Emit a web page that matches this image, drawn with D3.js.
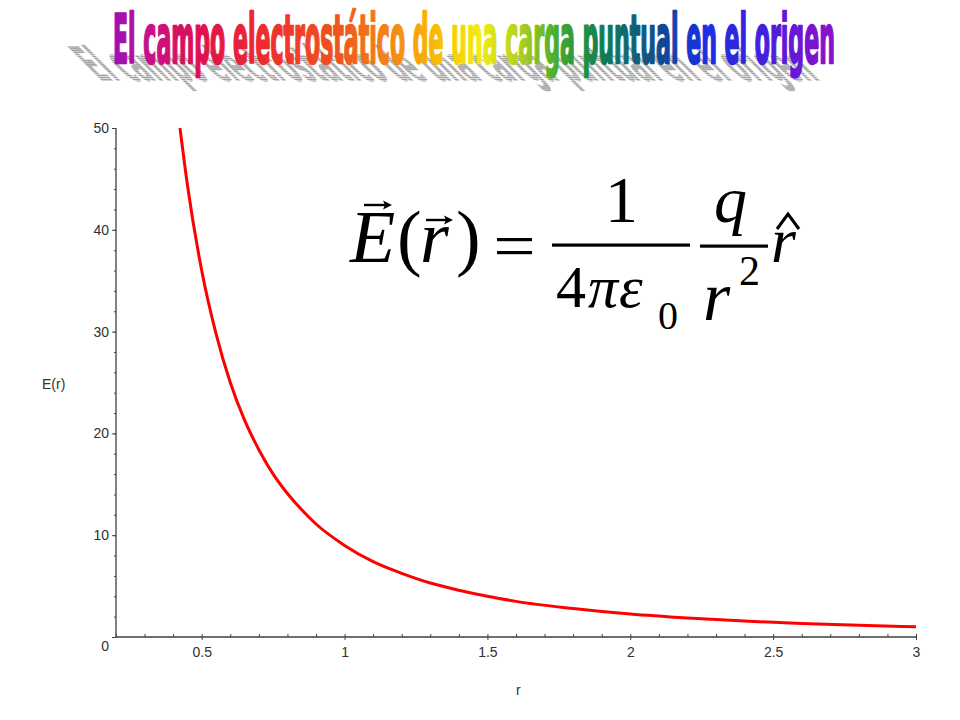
<!DOCTYPE html>
<html>
<head>
<meta charset="utf-8">
<script src="https://cdn.jsdelivr.net/npm/d3@7"></script>
<style>
  html, body { margin: 0; padding: 0; background: #fff; }
  svg { display: block; }
</style>
</head>
<body>
<script>
// ---- Data ----
const rValues = [0.424, 0.45, 0.5, 0.55, 0.6, 0.65, 0.7, 0.75, 0.8, 0.85, 0.9, 1.0, 1.1, 1.2, 1.3, 1.4, 1.5, 1.6, 1.8, 2.0, 2.2, 2.4, 2.6, 2.8, 3.0];
const eValues = [50, 44.4, 36, 29.8, 25, 21.3, 18.4, 16, 14.1, 12.5, 11.1, 9, 7.4, 6.25, 5.3, 4.6, 4, 3.5, 2.8, 2.25, 1.86, 1.56, 1.33, 1.15, 1.0];
const xTickValues = [0.5, 1, 1.5, 2, 2.5, 3];
const yTickValues = [0, 10, 20, 30, 40, 50];
const titleText = "El campo electrostático de una carga puntual en el origen";
const xLabel = "r";
const yLabel = "E(r)";

const W = 960, H = 720;
const svg = d3.select("body").append("svg").attr("width", W).attr("height", H);
const defs = svg.append("defs");

// ---- Title (WordArt style) ----
const TITLE_X = 113, TITLE_W = 722;
const grad = defs.append("linearGradient").attr("id", "rainbow")
  .attr("gradientUnits", "objectBoundingBox").attr("x1", 0).attr("x2", 1).attr("y1", 0).attr("y2", 0);
[[113,"#9a10b8"],[150,"#c8108a"],[200,"#e0104e"],[260,"#ee2a30"],[340,"#f0561e"],[400,"#f59018"],
 [440,"#f8c000"],[480,"#f4ec10"],[520,"#b0d020"],[560,"#40a830"],[600,"#108050"],[660,"#104a90"],
 [700,"#1830e0"],[760,"#4020e0"],[835,"#9010c8"]].forEach(([px,c]) => {
  grad.append("stop").attr("offset", ((px - TITLE_X) / TITLE_W)).attr("stop-color", c);
});
const pat = defs.append("pattern").attr("id", "stripes").attr("patternUnits", "userSpaceOnUse")
  .attr("width", 4).attr("height", 3);
pat.append("rect").attr("width", 4).attr("height", 3).attr("fill", "#dcdcdc");
pat.append("rect").attr("width", 4).attr("height", 2).attr("fill", "#a4a4a4");

const titleFont = "'Liberation Sans Narrow', 'DejaVu Sans Condensed', 'Liberation Sans', Arial, sans-serif";
function titleEl(fill) {
  return svg.append("text").attr("x", 0).attr("y", 0)
    .attr("font-family", titleFont).attr("font-weight", "bold").attr("font-size", 68)
    .attr("fill", fill).text(titleText);
}
const shadow = titleEl("url(#stripes)");
const main = titleEl("url(#rainbow)").attr("stroke", "url(#rainbow)").attr("stroke-width", 2.4)
  .attr("stroke-linejoin", "round");
const natural = main.node().getComputedTextLength();
const sx = TITLE_W / natural;
main.attr("transform", `translate(${TITLE_X},63) scale(${sx},1)`);
shadow.attr("transform", `translate(100,81) skewX(45) scale(${sx},0.7)`);

// ---- Scales ----
const x = d3.scaleLinear().domain([0.2, 3]).range([116, 916]);
const y = d3.scaleLinear().domain([0, 50]).range([637, 128]);

const axisColor = "#404040";
const labelFont = "'Liberation Sans', Arial, sans-serif";

// minor ticks
const gxMinor = svg.append("g").attr("transform", `translate(0,${y(0)})`)
  .call(d3.axisTop(x).tickValues(d3.range(2, 31).map(d => d / 10)).tickSize(3).tickFormat(""));
const gyMinor = svg.append("g").attr("transform", `translate(${x(0.2)},0)`)
  .call(d3.axisLeft(y).tickValues(d3.range(0, 51, 2)).tickSize(2).tickFormat(""));
[gxMinor, gyMinor].forEach(g => {
  g.select(".domain").remove();
  g.selectAll("line").attr("stroke", axisColor);
});

// major axes
const gx = svg.append("g").attr("transform", `translate(0,${y(0)})`)
  .call(d3.axisBottom(x).tickValues(xTickValues).tickSize(3).tickPadding(7).tickFormat(d3.format("~g")));
const gy = svg.append("g").attr("transform", `translate(${x(0.2)},0)`)
  .call(d3.axisLeft(y).tickValues(yTickValues).tickSize(4).tickPadding(3).tickFormat(d3.format("~g")));
[gx, gy].forEach(g => {
  g.select(".domain").attr("stroke", axisColor).attr("stroke-width", 1.3);
  g.selectAll("line").attr("stroke", axisColor);
  g.selectAll("text").attr("fill", "#303030").attr("font-family", labelFont).attr("font-size", 14);
});
gy.select(".domain").attr("d", `M0,${y(50)}V${y(0)}`);
gx.select(".domain").attr("d", `M${x(0.2)},0H${x(3)}`);
// y label "0" sits at lower-left of origin
gy.selectAll(".tick").filter(d => d === 0).select("text").attr("dy", "0.95em");

// axis titles
svg.append("text").attr("x", 42).attr("y", 389).attr("font-family", labelFont).attr("font-size", 14)
  .attr("fill", "#303030").text(yLabel);
svg.append("text").attr("x", 516).attr("y", 695).attr("font-family", labelFont).attr("font-size", 14)
  .attr("fill", "#303030").text(xLabel);

// ---- Curve ----
const pts = rValues.map((r, i) => [r, eValues[i]]);
svg.append("path").datum(pts)
  .attr("d", d3.line().x(d => x(d[0])).y(d => y(d[1])).curve(d3.curveMonotoneX))
  .attr("fill", "none").attr("stroke", "#ff0000").attr("stroke-width", 3);

// ---- Formula ----
const serif = "'Liberation Serif', 'Times New Roman', serif";
const f = svg.append("g").attr("fill", "#000");
function t(str, px, py, size, italic) {
  f.append("text").attr("x", px).attr("y", py).attr("font-family", serif)
    .attr("font-size", size).attr("font-style", italic ? "italic" : "normal").text(str);
}
function arrow(x1, x2, yy) {
  f.append("line").attr("x1", x1).attr("x2", x2 - 6).attr("y1", yy).attr("y2", yy)
    .attr("stroke", "#000").attr("stroke-width", 2.4);
  f.append("path").attr("d", `M${x2},${yy}L${x2 - 9},${yy - 4.5}L${x2 - 7},${yy}L${x2 - 9},${yy + 4.5}Z`);
}
t("E", 350, 262, 74, true);
arrow(364, 392, 205);
t("(", 397, 262, 74, false);
t("r", 420, 262, 74, true);
arrow(426, 453, 220);
t(")", 456, 262, 74, false);
f.append("rect").attr("x", 497).attr("y", 238).attr("width", 35).attr("height", 3.2);
f.append("rect").attr("x", 497).attr("y", 251).attr("width", 35).attr("height", 3.2);
f.append("rect").attr("x", 552).attr("y", 243.5).attr("width", 138).attr("height", 3.2);
t("1", 605, 222, 66, false);
t("4", 556, 307, 60, false);
t("π", 588, 307, 60, true);
t("ε", 619, 307, 60, true);
t("0", 658, 329, 40, false);
f.append("rect").attr("x", 700).attr("y", 244.5).attr("width", 68).attr("height", 3.2);
t("q", 714, 222, 66, true);
t("r", 703, 320, 70, true);
t("2", 739, 285, 42, false);
t("r", 771, 262, 64, true);
f.append("path").attr("d", "M777,229L788,214L799,229").attr("fill", "none")
  .attr("stroke", "#000").attr("stroke-width", 3).attr("stroke-linejoin", "miter");
</script>
</body>
</html>
